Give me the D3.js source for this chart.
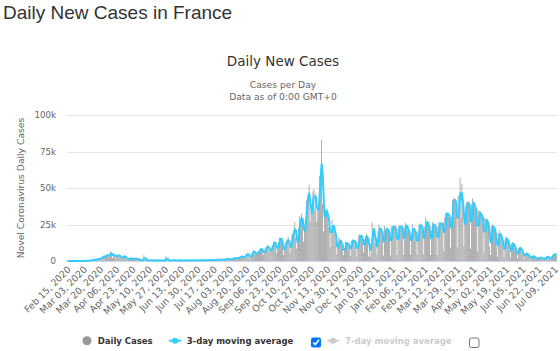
<!DOCTYPE html>
<html>
<head>
<meta charset="utf-8">
<script src="https://cdn.jsdelivr.net/npm/d3@7"></script>
<style>
body { margin: 0; background: #fff; }
</style>
</head>
<body>
<script>
// daily new cases, one array per month
var feb2020 = [0,0,0,0,0,0,0,0,0,0,0,2,4,20,19];
var mar2020 = [30,61,21,73,138,190,336,177,286,372,497,595,785,838,924,1210,1097,1404,1861,1617,1847,1559,3838,2446,2931,3922,3809,4611,2599,4376,6500];
var apr2020 = [4861,2116,5233,4267,1873,3912,3777,4286,3000,3300,2500,2300,2200,4000,3000,2200,405,1909,1101,1828,2051,1599,1439,1212,1800,1653,1370,1607,1043,758];
var may2020 = [800,500,400,300,4000,1100,600,700,300,400,450,400,500,600,300,200,600,400,500,200,400,600,300,200,350,300,400,3300,500,600,200];
var jun2020 = [300,500,400,600,500,550,400,300,400,450,500,400,350,300,400,450,500,400,350,300,550,500,450,400,300,600,500,450,400,350];
var jul2020 = [500,600,550,600,550,400,500,600,650,500,600,650,700,800,600,500,550,700,800,850,700,600,900,1100,1000,900,700,1100,1300,1400,1300];
var aug2020 = [1300,1400,1000,1000,1600,1700,1800,2000,2300,1600,1500,2500,2700,3000,3300,2900,2200,2300,3800,4700,4600,4900,3600,1400,3300,5400,6100,7400,5400,4900,4500];
var sep2020 = [5400,7000,7100,8900,8500,7000,4200,6500,8600,9800,9400,10500,7200,6100,7800,9800,10600,13200,13500,10600,5300,10000,13000,16000,15800,14400,11100,4100,8000,12800];
var oct2020 = [13900,12100,16900,12500,5100,10500,18700,18100,20300,26900,16100,8500,12900,22600,30600,25100,32400,29800,13200,20500,26700,41600,42000,45400,52000,26800,33400,36400,47600,49200,35600];
var nov2020 = [46300,26800,36300,40600,58000,60500,83000,38600,20200,35900,33200,35900,32100,22900,27200,9400,22000,28400,21100,22900,17900,13100,4500,9200,16300,13600,12500,11000,9800,4000];
var dec2020 = [8000,13200,12700,11200,11000,11000,3400,13700,14600,13800,13400,12900,11500,3100,11500,17600,18300,15800,17500,12800,5900,14900,16500,18800,15000,3100,16000,3000,11400,26500,20300];
var jan2021 = [19300,12500,12900,4000,20200,25000,21700,20200,19800,15900,3600,23900,21200,21700,21200,21400,16600,3700,23600,24000,22800,23300,23900,18300,4200,22000,24500,23500,22900,24300,19300];
var feb2021 = [4300,23300,26000,23400,20600,20000,19700,4300,18900,25400,21000,19700,20700,17600,4300,19600,24900,25200,23700,22500,20100,4500,23300,29500,25400,25200,24100,21200];
var mar2021 = [4300,20800,26800,25300,23300,23500,21800,4300,23300,27000,25200,25300,26000,26300,6500,29900,33000,32000,33000,30600,30000,9100,29900,42000,43000,40000,42600,37000,9000,45000,38000];
var apr2021 = [57000,30000,53000,38000,10000,28000,38000,40000,41000,38000,35000,8500,39000,43000,38000,36000,36000,31000,6500,35000,34000,31000,32000,30000,25000,5500,30000,29000,26000,25000];
var may2021 = [24000,9900,4100,24000,25000,22000,21000,19000,10000,3000,19000,21000,16000,17000,14000,8000,2500,15000,17000,14000,13000,11000,7000,2500,12000,13000,11000,9000,8000,5000,1800];
var jun2021 = [9000,9500,8500,7500,6500,4000,1500,5500,5500,4500,4000,3500,2500,800,3500,3500,3000,2500,2200,1500,600,2500,2500,2200,2000,1800,1500,500,2500,2800];
var jul2021 = [2700,2600,2400,1700,600,3500,4000,4500,4800,5000,4200];

var tickLabels = ["Feb 15, 2020","Mar 03, 2020","Mar 20, 2020","Apr 06, 2020","Apr 23, 2020","May 10, 2020",
  "May 27, 2020","Jun 13, 2020","Jun 30, 2020","Jul 17, 2020","Aug 03, 2020","Aug 20, 2020","Sep 06, 2020",
  "Sep 23, 2020","Oct 10, 2020","Oct 27, 2020","Nov 13, 2020","Nov 30, 2020","Dec 17, 2020","Jan 03, 2021",
  "Jan 20, 2021","Feb 06, 2021","Feb 23, 2021","Mar 12, 2021","Mar 29, 2021","Apr 15, 2021","May 02, 2021",
  "May 19, 2021","Jun 05, 2021","Jun 22, 2021","Jul 09, 2021"];
var yTicks = [0, 25000, 50000, 75000, 100000];

var dailyCases = [].concat(feb2020, mar2020, apr2020, may2020, jun2020, jul2020, aug2020, sep2020,
  oct2020, nov2020, dec2020, jan2021, feb2021, mar2021, apr2021, may2021, jun2021, jul2021);

var startDay = d3.timeParse("%Y-%m-%d")("2020-02-15");
var fmt = d3.timeFormat("%b %d, %Y");
var data = dailyCases.map(function(v, i) {
  var win = dailyCases.slice(Math.max(0, i - 2), i + 1);
  return {date: fmt(d3.timeDay.offset(startDay, i)), cases: v, avg3: d3.mean(win)};
});

var W = 560, H = 351;
var plotL = 67, plotR = 557, plotT = 115, plotB = 261;

var svg = d3.select("body").append("svg")
  .attr("width", W).attr("height", H)
  .style("font-family", "'DejaVu Sans', sans-serif");

// page heading
svg.append("text").attr("x", 3).attr("y", 18.5)
  .style("font-family", "'Liberation Sans', Arial, sans-serif")
  .style("font-size", "19px").attr("fill", "#333")
  .text("Daily New Cases in France");

// chart title + subtitle
svg.append("text").attr("x", 283).attr("y", 66).attr("text-anchor", "middle")
  .style("font-size", "13.5px").attr("fill", "#333").text("Daily New Cases");
svg.append("text").attr("x", 283).attr("y", 88).attr("text-anchor", "middle")
  .style("font-size", "9.2px").attr("fill", "#666").text("Cases per Day");
svg.append("text").attr("x", 283).attr("y", 100).attr("text-anchor", "middle")
  .style("font-size", "9.2px").attr("fill", "#666").text("Data as of 0:00 GMT+0");

var x = d3.scaleBand().domain(data.map(function(d) { return d.date; })).range([plotL, plotR]).padding(0);
var y = d3.scaleLinear().domain([0, 100000]).range([plotB, plotT]);

// grid
svg.append("g").selectAll("line").data(yTicks).enter().append("line")
  .attr("x1", plotL).attr("x2", plotR)
  .attr("y1", function(d) { return Math.round(y(d)) + 0.5; })
  .attr("y2", function(d) { return Math.round(y(d)) + 0.5; })
  .attr("stroke", "#e6e6e6");

// y axis
var yAxis = svg.append("g").attr("transform", "translate(" + plotL + ",0)")
  .call(d3.axisLeft(y).tickValues(yTicks).tickSize(0).tickPadding(11)
    .tickFormat(function(d) { return d === 0 ? "0" : (d / 1000) + "k"; }));
yAxis.select(".domain").remove();
yAxis.selectAll("text").style("font-size", "8.7px").style("font-family", "'DejaVu Sans', sans-serif").attr("fill", "#666");

svg.append("text").attr("transform", "translate(24," + ((plotT + plotB) / 2) + ") rotate(-90)")
  .attr("text-anchor", "middle").style("font-size", "9.2px").attr("fill", "#666")
  .text("Novel Coronavirus Daily Cases");

// bars
var bw = x.bandwidth();
svg.append("g").selectAll("rect").data(data).enter().append("rect")
  .attr("x", function(d) { return x(d.date) + bw * 0.1; })
  .attr("width", bw * 0.8)
  .attr("y", function(d) { return y(d.cases); })
  .attr("height", function(d) { return plotB - y(d.cases); })
  .attr("fill", "#9a9a9a");

// x axis line
svg.append("line").attr("x1", plotL).attr("x2", plotR)
  .attr("y1", plotB + 0.5).attr("y2", plotB + 0.5).attr("stroke", "#ccd6eb");

// 3-day moving average
var line = d3.line()
  .x(function(d) { return x(d.date) + bw / 2; })
  .y(function(d) { return y(d.avg3); })
  .curve(d3.curveMonotoneX);
svg.append("path").datum(data).attr("d", line)
  .attr("fill", "none").attr("stroke", "#33ccff").attr("stroke-width", 2);

// x axis labels
var xAxis = svg.append("g").attr("transform", "translate(0," + plotB + ")")
  .call(d3.axisBottom(x).tickValues(tickLabels).tickSize(0));
xAxis.select(".domain").remove();
xAxis.selectAll("text")
  .attr("y", 0).attr("dy", 0)
  .attr("transform", "translate(4,9) rotate(-45)")
  .style("text-anchor", "end")
  .style("font-size", "9.4px").style("font-family", "'DejaVu Sans', sans-serif").attr("fill", "#666");

// legend
var lg = svg.append("g").style("font-size", "8.5px").style("font-weight", "bold");
var ly = 340.7;
lg.append("circle").attr("cx", 87).attr("cy", ly).attr("r", 4.5).attr("fill", "#999");
lg.append("text").attr("x", 97.7).attr("y", ly + 3).attr("fill", "#333").text("Daily Cases");

lg.append("line").attr("x1", 169).attr("x2", 181).attr("y1", ly).attr("y2", ly)
  .attr("stroke", "#33ccff").attr("stroke-width", 2);
lg.append("circle").attr("cx", 175).attr("cy", ly).attr("r", 3).attr("fill", "#33ccff");
lg.append("text").attr("x", 186.7).attr("y", ly + 3).attr("fill", "#333").text("3-day moving average");

lg.append("rect").attr("x", 311).attr("y", 337.5).attr("width", 10).attr("height", 10).attr("rx", 2)
  .attr("fill", "#0075ff");
lg.append("path").attr("d", "M313.3,342.6 L315.3,344.6 L319,339.8")
  .attr("fill", "none").attr("stroke", "#fff").attr("stroke-width", 1.6);

lg.append("line").attr("x1", 327.5).attr("x2", 339).attr("y1", ly).attr("y2", ly)
  .attr("stroke", "#ccc").attr("stroke-width", 2);
lg.append("circle").attr("cx", 333).attr("cy", ly).attr("r", 3).attr("fill", "#ccc");
lg.append("text").attr("x", 345).attr("y", ly + 3).attr("fill", "#ccc").text("7-day moving average");

lg.append("rect").attr("x", 469.5).attr("y", 338).attr("width", 9.5).attr("height", 9.5).attr("rx", 2)
  .attr("fill", "#fff").attr("stroke", "#767676");
</script>
</body>
</html>
